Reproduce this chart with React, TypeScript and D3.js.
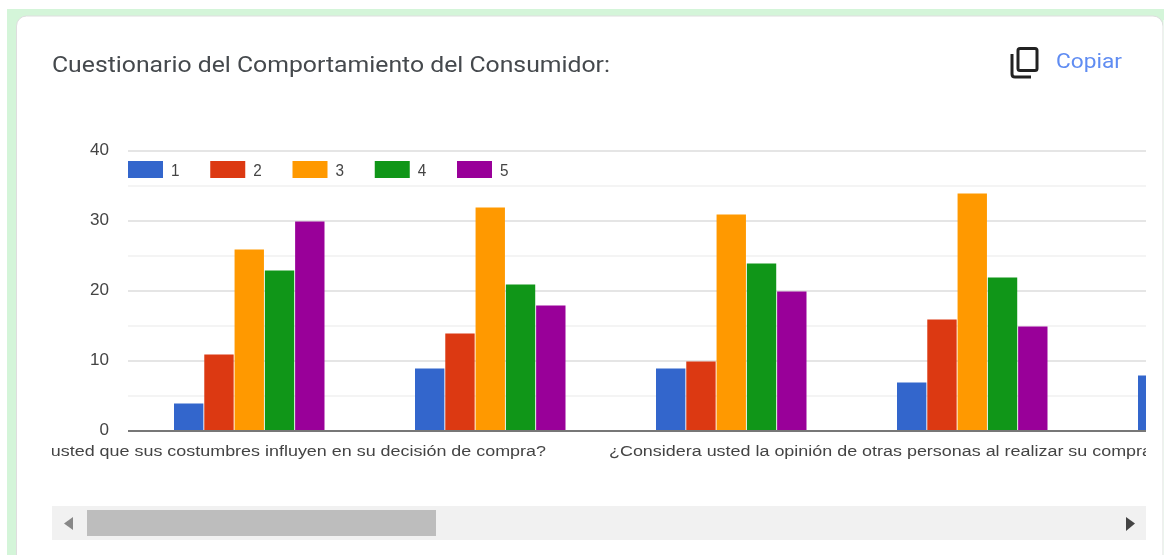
import React from "react";
import * as d3 from "d3";

const title = "Cuestionario del Comportamiento del Consumidor:";
const copyLabel = "Copiar";
const seriesNames = ["1", "2", "3", "4", "5"];
const seriesColors = ["#3366cc", "#dc3912", "#ff9900", "#109618", "#990099"];
const groups = ["q1", "q2", "q3", "q4", "q5"];
const s1 = [4, 9, 9, 7, 8];
const s2 = [11, 14, 10, 16, 0];
const s3 = [26, 32, 31, 34, 0];
const s4 = [23, 21, 24, 22, 0];
const s5 = [30, 18, 20, 15, 0];
const seriesValues = [s1, s2, s3, s4, s5];
const yTicks = [0, 10, 20, 30, 40];
const yMinorTicks = [5, 15, 25, 35];
const labelLeft = "¿Cree usted que sus costumbres influyen en su decisión de compra?";
const labelRight = "¿Considera usted la opinión de otras personas al realizar su compra?";

const W = 1164, H = 555;
const plotL = 128, plotR = 1146, plotT = 151, plotB = 431;
const y = d3.scaleLinear().domain([0, 40]).range([plotB, plotT]);
const x0 = d3.scaleBand<string>().domain(groups).range([128.5, 128.5 + 241 * groups.length]);
const x1 = d3.scaleBand<string>().domain(seriesNames).range([45.5, 196]).paddingInner(0.03);
const legendX = d3.scalePoint<string>().domain(seriesNames).range([128, 457]);
const axisFont = "'Liberation Sans', Arial, sans-serif";
const uiFont = "Roboto, sans-serif";

export default function App() {
  return (
    <svg width={W} height={H} style={{ position: "fixed", left: 0, top: 0, filter: "blur(0.5px)" }}>
      <defs>
        <clipPath id="plot"><rect x={52} y={130} width={plotR - 52} height={340} /></clipPath>
      </defs>
      <rect width={W} height={H} fill="#fff" />
      <rect x={7} y={9} width={W - 7} height={H - 9} fill="#d4f5d9" />
      <rect x={16.5} y={16} width={1146.5} height={H} rx={10} fill="#fff" stroke="#dedede" strokeWidth={1} />
      <rect x={1163.5} y={20} width={1} height={H} fill="#fff" />

      <text x={52} y={72} fontFamily={uiFont} fontSize={22} fill="#45494d" textLength={558} lengthAdjust="spacingAndGlyphs">{title}</text>

      <g fill="none" stroke="#222" strokeWidth={3}>
        <rect x={1018} y={48.5} width={19} height={22} rx={2} />
        <path d="M1012 54 V74 Q1012 77 1015 77 H1031" />
      </g>
      <text x={1056} y={68} fontFamily={uiFont} fontSize={20} fill="#5f8cf2" textLength={66} lengthAdjust="spacingAndGlyphs">{copyLabel}</text>

      {yMinorTicks.map(t => (
        <line key={t} x1={plotL} x2={plotR} y1={y(t)} y2={y(t)} stroke="#f0f0f0" strokeWidth={1.5} />
      ))}
      {yTicks.filter(t => t > 0).map(t => (
        <line key={t} x1={plotL} x2={plotR} y1={y(t)} y2={y(t)} stroke="#dcdcdc" strokeWidth={1.5} />
      ))}
      {yTicks.map(t => (
        <text key={t} x={109} y={y(t) + 4} textAnchor="end" fontFamily={axisFont} fontSize={17} fill="#444" textLength={String(t).length * 9.5} lengthAdjust="spacingAndGlyphs">{t}</text>
      ))}

      <g clipPath="url(#plot)">
        {groups.map((g, gi) =>
          seriesNames.map((s, si) => {
            const v = seriesValues[si][gi];
            if (!v) return null;
            return (
              <rect key={g + s} x={(x0(g) ?? 0) + (x1(s) ?? 0)} y={y(v) + 0.5} width={x1.bandwidth()} height={plotB - y(v) - 0.5} fill={seriesColors[si]} />
            );
          })
        )}
        <text x={-4} y={456} fontFamily={axisFont} fontSize={15.5} fill="#444" textLength={550} lengthAdjust="spacingAndGlyphs">{labelLeft}</text>
        <text x={609} y={456} fontFamily={axisFont} fontSize={15.5} fill="#444" textLength={553} lengthAdjust="spacingAndGlyphs">{labelRight}</text>
      </g>
      <line x1={plotL} x2={plotR} y1={plotB} y2={plotB} stroke="#777" strokeWidth={2} />

      {seriesNames.map((s, i) => (
        <g key={s}>
          <rect x={legendX(s)} y={161} width={35} height={17} fill={seriesColors[i]} />
          <text x={(legendX(s) ?? 0) + 43} y={176} fontFamily={axisFont} fontSize={16} fill="#444" textLength={8.5} lengthAdjust="spacingAndGlyphs">{s}</text>
        </g>
      ))}

      <rect x={52} y={506} width={1094} height={34} fill="#f1f1f1" />
      <rect x={87} y={510} width={349} height={26} fill="#bdbdbd" />
      <path d="M73 517 L64 523.5 L73 530 Z" fill="#888" />
      <path d="M1126 517 L1135 523.5 L1126 531 Z" fill="#444" />
    </svg>
  );
}
